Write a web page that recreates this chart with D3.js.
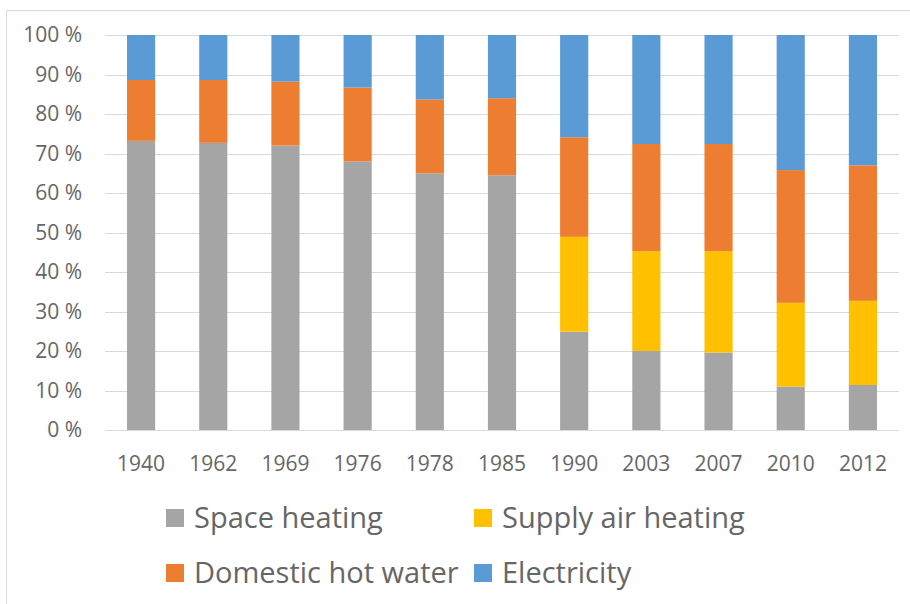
<!DOCTYPE html>
<meta charset="utf-8">
<style>
body { margin: 0; background: #fff; }
svg { font-family: "Open Sans", "Noto Sans", sans-serif; }
.grid line { stroke: #d9d9d9; stroke-width: 1px; }
.tick-label { fill: #666; font-size: 21px; }
.legend text { fill: #666; font-size: 29px; }
</style>
<svg width="910" height="604"></svg>
<script src="https://cdn.jsdelivr.net/npm/d3@7"></script>
<script>
// categories and series (percent shares)
var years = ["1940", "1962", "1969", "1976", "1978", "1985", "1990", "2003", "2007", "2010", "2012"];
var spaceHeating = [73.2, 72.7, 72.0, 68.0, 65.0, 64.5, 24.9, 20.0, 19.6, 11.0, 11.4];
var supplyAir    = [0, 0, 0, 0, 0, 0, 24.0, 25.3, 25.7, 21.2, 21.3];
var hotWater     = [15.4, 15.9, 16.2, 18.7, 18.7, 19.5, 25.2, 27.1, 27.1, 33.6, 34.3];
var electricity  = [11.4, 11.4, 11.8, 13.3, 16.3, 16.0, 25.9, 27.6, 27.6, 34.2, 33.0];
var yTicks = [0, 10, 20, 30, 40, 50, 60, 70, 80, 90, 100];

var seriesNames = ["Space heating", "Supply air heating", "Domestic hot water", "Electricity"];
var seriesColors = ["#a5a5a5", "#ffc000", "#ed7d31", "#5b9bd5"];

var svg = d3.select("svg");

// outer frame (top and left edges visible)
svg.append("line").attr("x1", 6).attr("y1", 10.5).attr("x2", 910).attr("y2", 10.5)
  .attr("stroke", "#d9d9d9");
svg.append("line").attr("x1", 6.5).attr("y1", 10).attr("x2", 6.5).attr("y2", 604)
  .attr("stroke", "#d9d9d9");

var x = d3.scaleBand().domain(years).range([105, 899]).paddingInner(0.61).paddingOuter(0.305);
var y = d3.scaleLinear().domain([0, 100]).range([430, 35]);

// gridlines
svg.append("g").attr("class", "grid")
  .selectAll("line").data(yTicks).enter().append("line")
  .attr("x1", 105).attr("x2", 899)
  .attr("y1", function(d) { return Math.round(y(d)) + 0.5; })
  .attr("y2", function(d) { return Math.round(y(d)) + 0.5; });

// y tick labels
svg.append("g").selectAll("text").data(yTicks).enter().append("text")
  .attr("class", "tick-label")
  .attr("x", 82)
  .attr("y", function(d) { return y(d); })
  .attr("dy", "0.35em")
  .attr("text-anchor", "end")
  .text(function(d) { return d + " %"; });

// x tick labels
svg.append("g").selectAll("text").data(years).enter().append("text")
  .attr("class", "tick-label")
  .attr("x", function(d) { return x(d) + x.bandwidth() / 2; })
  .attr("y", 464)
  .attr("dy", "0.35em")
  .attr("text-anchor", "middle")
  .text(function(d) { return d; });

// stacked bars
var rows = years.map(function(yr, i) {
  return { year: yr, "Space heating": spaceHeating[i], "Supply air heating": supplyAir[i],
           "Domestic hot water": hotWater[i], "Electricity": electricity[i] };
});
var stacked = d3.stack().keys(seriesNames)(rows);

svg.append("g").selectAll("g").data(stacked).enter().append("g")
  .attr("fill", function(d, i) { return seriesColors[i]; })
  .selectAll("rect").data(function(d) { return d; }).enter().append("rect")
  .attr("x", function(d) { return x(d.data.year); })
  .attr("width", x.bandwidth())
  .attr("y", function(d) { return y(d[1]); })
  .attr("height", function(d) { return y(d[0]) - y(d[1]); });

// legend: two rows, two columns
var legendPos = [[166, 518], [474, 518], [166, 573], [474, 573]];
var legend = svg.append("g").attr("class", "legend")
  .selectAll("g").data(seriesNames).enter().append("g")
  .attr("transform", function(d, i) { return "translate(" + legendPos[i][0] + "," + legendPos[i][1] + ")"; });
legend.append("rect").attr("x", 0).attr("y", -9).attr("width", 18).attr("height", 18)
  .attr("fill", function(d, i) { return seriesColors[i]; });
legend.append("text").attr("x", 28).attr("dy", "0.35em").text(function(d) { return d; });
</script>
